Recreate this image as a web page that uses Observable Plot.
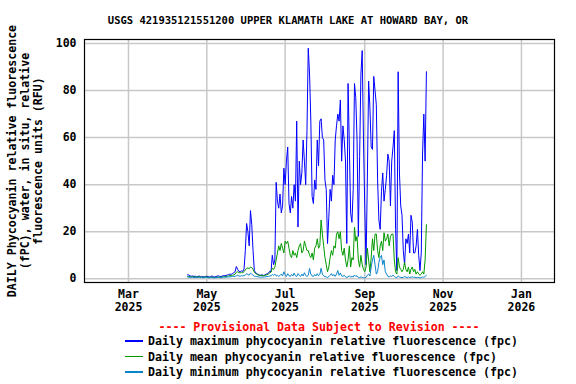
<!DOCTYPE html>
<html><head><meta charset="utf-8">
<script src="https://cdn.jsdelivr.net/npm/d3@7"></script>
<script src="https://cdn.jsdelivr.net/npm/@observablehq/plot@0.6"></script>
<style>
body{margin:0;background:#fff}
#wrap{position:relative;width:576px;height:384px;overflow:hidden;font-family:"DejaVu Sans Mono",monospace;font-weight:bold;color:#000}
.t{position:absolute;white-space:pre;line-height:14px}
</style></head><body><div id="wrap"></div>
<script>
const title = "USGS 421935121551200 UPPER KLAMATH LAKE AT HOWARD BAY, OR";
const yLabelLines = ["DAILY Phycocyanin relative fluorescence", "(fPC), water, in situ, relative", "fluorescence units (RFU)"];
const provisional = "---- Provisional Data Subject to Revision ----";
const seriesNames = ["Daily maximum phycocyanin relative fluorescence (fpc)", "Daily mean phycocyanin relative fluorescence (fpc)", "Daily minimum phycocyanin relative fluorescence (fpc)"];
const seriesColors = ["#0000ff", "#009900", "#0a84cc"];
const xTickDates = ["2025-03-01", "2025-05-01", "2025-07-01", "2025-09-01", "2025-11-01", "2026-01-01"];
const xTickLabels = ["Mar\n2025", "May\n2025", "Jul\n2025", "Sep\n2025", "Nov\n2025", "Jan\n2026"];
const yTicks = [0, 20, 40, 60, 80, 100];
const startDate = "2025-04-16";

const maxVals = [
1.7,1.6,1.2,1.1,1.2,1.0,1.1,0.9,1.0,1.2,0.9,1.0,0.8,0.9,1.0,
1.1,0.9,0.8,1.0,1.2,0.9,0.8,1.0,1.1,1.3,1.0,0.9,1.2,1.4,1.3,
1.5,1.6,1.8,2.0,1.9,2.2,2.6,3.0,
5.2,4.0,3.2,3.0,3.4,3.1,4.2,
12,23.5,20,14,29,23,12,3.5,2.6,2.2,
1.8,1.6,1.5,1.7,1.4,1.6,1.9,2.1,2.4,3.2,3.0,10,6,8,
41,33,30,36,28,31,47,40,50,56,32,28,35,30,40,33,
67,22,50,40,45,59,50,40,63,98,87,67,35,32,42,
38,59,48,67,68,60,59,42,38,15,26,38,33,44,40,
59,65,70,67,76,50,65,59,50,15,83,56,28,24,38,
83,77,59,18,52,87,97,59,30,6,42,84,73,56,55,
86,80,74,42,25,21,37,45,33,38,44,53,50,31,50,
56,63,21,3.5,88,45,31,27,12,6,17,15,19,11,27,
24,11,11,14,21,10,3.5,11,53,70,50,88];
const meanVals = [
1.0,0.9,0.8,0.8,0.9,0.7,0.8,0.7,0.8,0.9,0.7,0.8,0.6,0.7,0.8,
0.8,0.7,0.6,0.7,0.8,0.6,0.5,0.6,0.7,0.8,0.7,0.6,0.8,0.9,0.9,
1.0,1.1,1.2,1.4,1.3,1.5,1.7,2.0,
2.8,3.0,2.6,2.5,2.7,2.6,3.0,
3.8,4.5,4.6,4.3,5.0,4.8,4.0,2.8,2.2,1.9,
1.6,1.5,1.4,1.5,1.3,1.4,1.6,1.8,2.0,2.5,2.8,4.5,4.0,5.0,
8,11,14,12,15,13,11,16,15,16,13,10,9,12,10,11,
9,12,14,15,11,12,16,14,12,12,10,9,11,8,13,
14,17,13,14,25,19,14,9,6,3,5,9,12,10,14,
13,19,20,17,20,12,10,13,8,5,8,14,5,9,8,
22,16,18,8,5,10,6,4,3,5,13,8,3,9,17,
12,19,19,12,9,14,16,12,19.6,16,17,19,14,18,19,
19,8,3,2,9,5,4,3,4,7,4,3,5,2,4,
5,3,4,2,3,2,1.5,2,3,2,8,23];
const minVals = [
0.8,0.7,0.6,0.6,0.7,0.5,0.6,0.5,0.6,0.7,0.5,0.6,0.4,0.5,0.6,
0.6,0.5,0.4,0.5,0.6,0.4,0.4,0.5,0.5,0.6,0.5,0.4,0.6,0.7,0.7,
0.7,0.8,0.8,0.9,0.9,1.0,1.0,1.1,
1.3,1.5,1.2,1.1,1.3,1.2,1.4,
1.6,2.2,1.8,1.5,2.4,2.0,1.5,1.1,1.0,0.9,
0.8,0.8,0.7,0.8,0.7,0.8,0.9,1.0,1.0,1.2,1.3,1.8,1.5,2.0,
1.2,1.5,1.0,1.4,2.0,1.2,3.0,1.8,1.0,2.2,1.3,1.0,1.8,1.2,2.4,1.3,
1.0,2.2,1.5,1.0,2.0,1.2,2.6,1.4,1.0,1.5,4.4,2.0,1.2,1.0,1.8,
1.2,2.2,1.3,1.8,4.5,2.0,1.2,1.0,0.8,0.6,0.9,1.5,2.2,1.2,1.8,
1.0,2.0,3.5,1.5,2.5,1.2,1.0,1.5,0.8,0.6,0.8,1.3,0.7,1.0,0.8,
1.6,1.0,1.3,0.6,0.5,0.8,0.6,0.5,0.4,0.6,1.5,2.0,1.2,5,8,
10,6,2,3,7,9,10,6,8,3,2,1,0.8,1.2,1.0,
1.5,1.0,0.6,0.5,1.2,0.8,0.6,0.5,0.6,1.0,0.7,0.5,0.8,0.5,0.7,
0.9,0.6,0.7,0.5,0.6,0.5,0.4,0.5,0.8,0.6,1.0,1.5];

const start = new Date(startDate + "T00:00:00Z");
const mk = (vals) => vals.map((v, i) => ({date: d3.utcDay.offset(start, i), value: v}));
const series = [mk(maxVals), mk(meanVals), mk(minVals)];
const tickDates = xTickDates.map(s => new Date(s + "T00:00:00Z"));

const chart = Plot.plot({
  width: 576, height: 384,
  marginLeft: 84, marginRight: 22, marginTop: 39, marginBottom: 102,
  style: {fontFamily: "DejaVu Sans Mono, monospace", fontSize: "11.5px", fontWeight: "bold", background: "transparent", color: "#000"},
  x: {type: "utc", domain: [new Date("2025-01-25T18:00:00Z"), new Date("2026-01-26T18:00:00Z")]},
  y: {domain: [-1.57, 101.7]},
  marks: [
    Plot.gridX(tickDates, {stroke: "#c8c8c8", strokeOpacity: 1, strokeWidth: 1.5}),
    Plot.gridY(yTicks, {stroke: "#c8c8c8", strokeOpacity: 1, strokeWidth: 1.5}),
    ...series.map((s, k) => Plot.line(s, {x: "date", y: "value", stroke: seriesColors[k], strokeWidth: 1})),
    Plot.frame({stroke: "#000", strokeWidth: 1.2}),
    Plot.axisX({ticks: tickDates, tickFormat: (d, i) => xTickLabels[i], tickSize: 0, tickPadding: 7, lineHeight: 1.1, label: null, fill: "#000"}),
    Plot.axisY({ticks: yTicks, tickSize: 0, tickPadding: 8, label: null, fill: "#000"})
  ]
});
const wrap = document.getElementById("wrap");
wrap.appendChild(chart);
chart.style.position = "absolute"; chart.style.left = "0"; chart.style.top = "0";

function addText(txt, css) {
  const d = document.createElement("div");
  d.className = "t"; d.textContent = txt;
  Object.assign(d.style, css);
  wrap.appendChild(d);
  return d;
}
addText(title, {left: "0", top: "13px", width: "576px", textAlign: "center", fontSize: "10.5px"});
const yl = addText(yLabelLines.join("\n"), {left: "24.7px", top: "160.5px", width: "320px", textAlign: "center", fontSize: "11.6px", lineHeight: "12.9px", transform: "translate(-50%,-50%) rotate(-90deg)"});
addText(provisional, {left: "0", top: "320px", width: "638px", textAlign: "center", fontSize: "11.6px", color: "#ff0000"});
seriesNames.forEach((n, k) => {
  const cy = 341 + k * 15.65;
  const sw = document.createElement("div");
  Object.assign(sw.style, {position: "absolute", left: "125px", width: "18px", top: (cy - 1) + "px", height: "1.5px", background: seriesColors[k]});
  wrap.appendChild(sw);
  addText(n, {left: "148px", top: (cy - 7) + "px", fontSize: "11.6px"});
});
</script>
</body></html>
